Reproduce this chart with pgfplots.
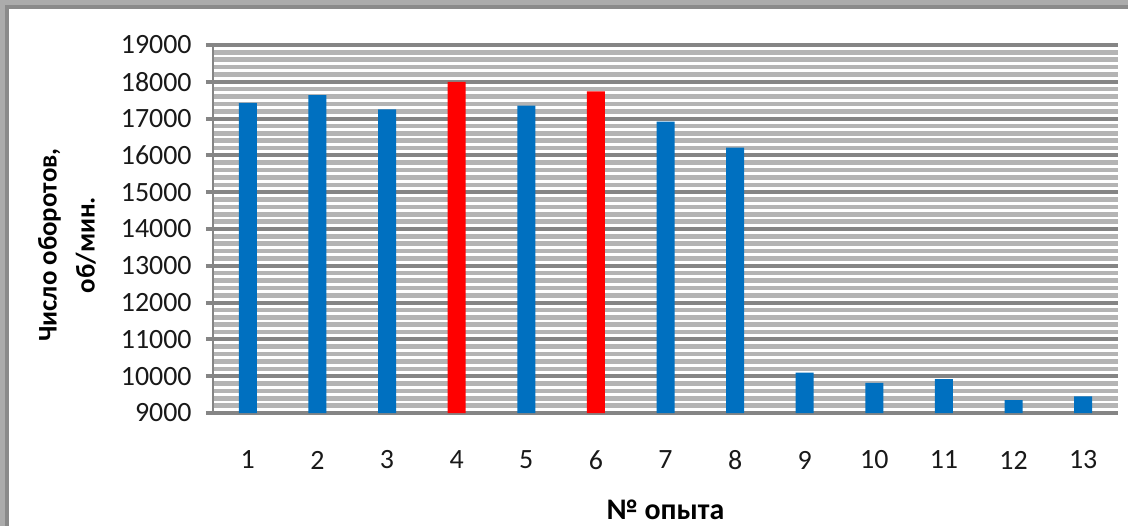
\documentclass[border=0pt]{standalone}
\usepackage{fontspec}
\setmainfont{Carlito}
\usepackage{pgfplots}
\pgfplotsset{compat=1.18}
\definecolor{barblue}{HTML}{0070C0}
\definecolor{barred}{HTML}{FF0000}
\definecolor{majgrid}{HTML}{858585}
\definecolor{mingrid}{HTML}{B4B4B4}
\definecolor{frameA}{HTML}{ABABAB}
\definecolor{frameB}{HTML}{8A8A8A}
\begin{document}
\begin{tikzpicture}
\useasboundingbox (-106.5bp,-56.5bp) rectangle (457.5bp,206.5bp);
\fill[white] (-106.5bp,-56.5bp) rectangle (457.5bp,206.5bp);
\fill[frameA] (-106.5bp,206.5bp) rectangle (457.5bp,202bp);
\fill[frameA] (-106.5bp,206.5bp) rectangle (-102bp,-56.5bp);
\fill[frameB] (-104bp,204bp) rectangle (457.5bp,202bp);
\fill[frameB] (-104bp,204bp) rectangle (-102bp,-56.5bp);
\begin{axis}[
  at={(0,0)}, anchor=south west,
  scale only axis, width=452.5bp, height=184bp,
  xmin=0.5, xmax=13.5, ymin=9000, ymax=19000,
  xtick={1,...,13}, ytick distance=1000, minor y tick num=4,
  scaled y ticks=false,
  /pgf/number format/1000 sep={},
  /pgf/number format/assume math mode=true,
  axis x line*=bottom, axis y line*=left,
  axis line style={draw=majgrid, line width=1.2bp},
  x axis line style={line width=2bp},
  ymajorgrids, yminorgrids,
  major grid style={draw=majgrid, line width=2bp},
  minor grid style={draw=mingrid, line width=2.3bp},
  ytick align=outside, major tick length=3.5bp,
  major y tick style={draw=majgrid, line width=2bp},
  minor y tick style={draw=none},
  major x tick style={draw=none},
  tick label style={font=\fontsize{14}{16}\selectfont, text=black!90},
  yticklabel style={anchor=east, inner sep=0pt, xshift=-7bp},
  xticklabel style={anchor=center, inner sep=0pt, yshift=-20bp},
  ybar, bar width=9bp, bar shift=0pt,
]
\addplot[fill=barblue, draw=none] coordinates {
(1,17430) (2,17640) (3,17250) (5,17350) (7,16920) (8,16210)
(9,10100) (10,9820) (11,9920) (12,9350) (13,9450)};
\addplot[fill=barred, draw=none] coordinates {(4,18000) (6,17740)};
\end{axis}
\node[rotate=90, align=center, font=\bfseries\fontsize{13.5}{19}\selectfont] at (-73bp,84bp) {Число оборотов,\\об/мин.};
\node[font=\bfseries\fontsize{15}{18}\selectfont] at (226.25bp,-48.5bp) {№ опыта};
\end{tikzpicture}
\end{document}
